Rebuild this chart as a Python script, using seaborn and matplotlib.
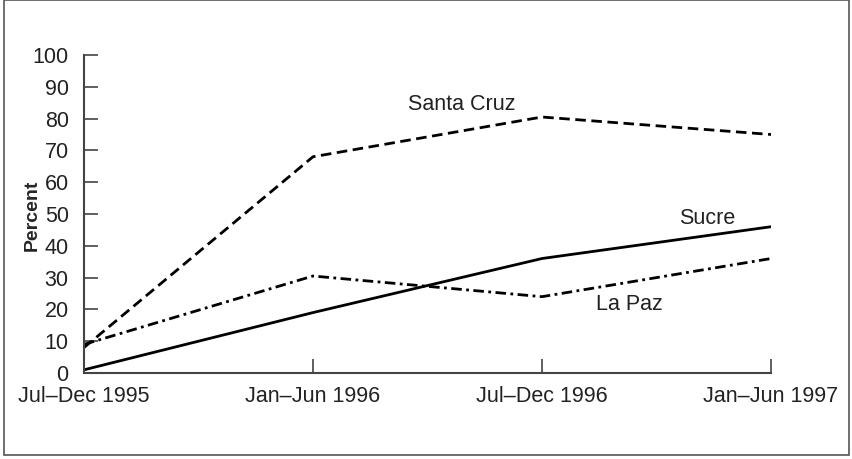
import matplotlib
matplotlib.use("Agg")
import matplotlib.pyplot as plt
import seaborn as sns
import pandas as pd
from matplotlib.patches import Rectangle

periods = ["Jul\u2013Dec 1995", "Jan\u2013Jun 1996", "Jul\u2013Dec 1996", "Jan\u2013Jun 1997"]
santa_cruz = [8, 68, 80.5, 75]
sucre = [1, 19, 36, 46]
la_paz = [9, 30.5, 24, 36]

sns.set_style("white")
plt.rcParams['font.family'] = ['Liberation Sans', 'DejaVu Sans']

fig = plt.figure(figsize=(8.52, 4.59), dpi=100)
ax = fig.add_axes([84/852, 1-373/459, (771-84)/852, (373-55)/459])

x = list(range(len(periods)))
series = [("Santa Cruz", santa_cruz, (3.8, 2.0)),
          ("Sucre", sucre, None),
          ("La Paz", la_paz, (3.8, 1.6, 1.0, 1.6))]
for name, vals, dash in series:
    df = pd.DataFrame({"x": x, "y": vals})
    sns.lineplot(data=df, x="x", y="y", ax=ax, color="black", linewidth=2.0)
    if dash is not None:
        ax.lines[-1].set_dashes(dash)

ax.set_xlim(0, 3)
ax.set_ylim(0, 100)
ax.set_xticks(x)
ax.set_xticklabels(periods, fontsize=15.5, color="#222222")
ax.set_yticks(range(0, 101, 10))
ax.set_yticklabels([str(v) for v in range(0, 101, 10)], fontsize=15.5, color="#222222")
ax.tick_params(axis="both", direction="in", length=10, width=1.2, color="#444444",
               bottom=True, left=True)
ax.tick_params(axis="x", pad=9)
ax.tick_params(axis="y", pad=11)
for s in ["top", "right"]:
    ax.spines[s].set_visible(False)
for s in ["left", "bottom"]:
    ax.spines[s].set_color("#444444")
    ax.spines[s].set_linewidth(1.5)
ax.set_xlabel("")
ax.set_ylabel("Percent", fontsize=14, fontweight="bold")
ax.yaxis.set_label_coords((41 - 84) / 687, 0.497)

ax.text(1.65, 84.5, "Santa Cruz", fontsize=15.5, color="#222222", ha="center", va="center")
ax.text(2.72, 48.5, "Sucre", fontsize=15.5, color="#222222", ha="center", va="center")
ax.text(2.38, 21.5, "La Paz", fontsize=15.5, color="#222222", ha="center", va="center")

fig.patches.append(Rectangle((4/852, 4/459), 845/852, 455/459, transform=fig.transFigure,
                             fill=False, edgecolor="#555555", linewidth=1.2))

fig.savefig("out.png", dpi=100)
